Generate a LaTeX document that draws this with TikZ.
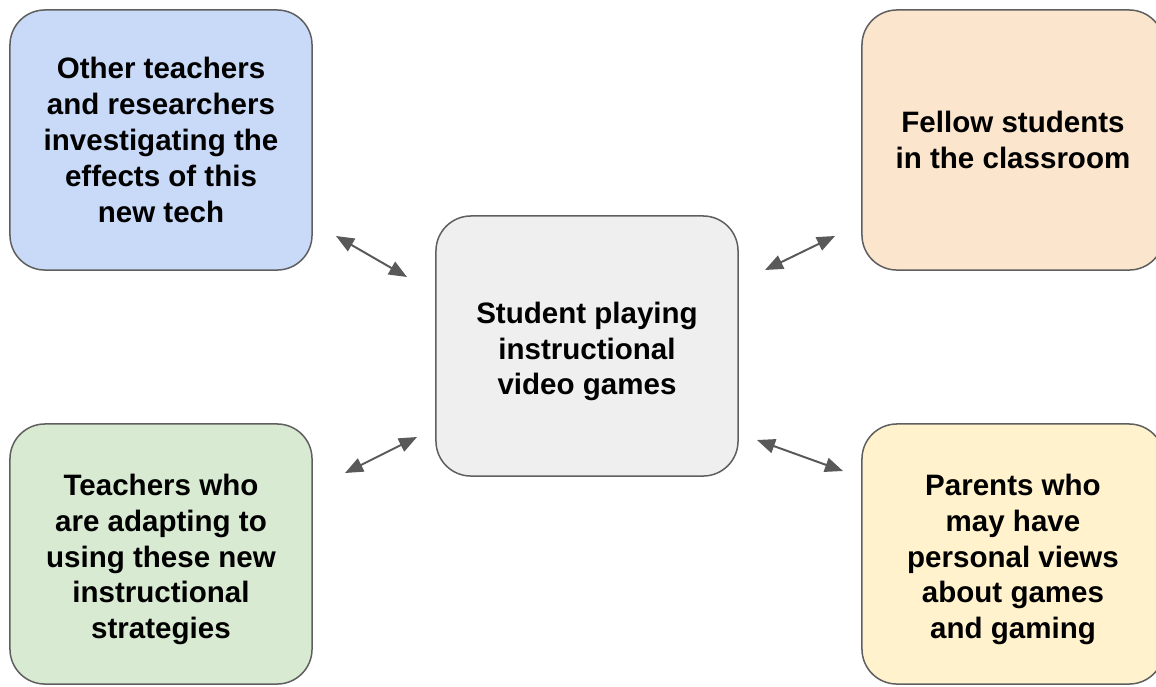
\documentclass[tikz,border=0pt]{standalone}
\usepackage{fontspec}
\setmainfont{Liberation Sans}
\usetikzlibrary{arrows.meta}
\definecolor{boxline}{HTML}{5F5F5F}
\definecolor{linkgray}{HTML}{595959}
\definecolor{blueish}{HTML}{C9DAF8}
\definecolor{orangeish}{HTML}{FCE5CD}
\definecolor{grayish}{HTML}{EFEFEF}
\definecolor{greenish}{HTML}{D9EAD3}
\definecolor{yellowish}{HTML}{FFF2CC}
\begin{document}
\begin{tikzpicture}[
    x=0.025cm, y=-0.025cm,
    every node/.style={rectangle, rounded corners=0.875cm, draw=boxline, line width=1.07pt,
      minimum width=7.55cm, minimum height=6.5cm, align=center,
      font=\bfseries\fontsize{21}{25.5}\selectfont},
    link/.style={{Triangle[length=4.5mm,width=3.6mm]}-{Triangle[length=4.5mm,width=3.6mm]},
      draw=linkgray, line width=1.4pt}
]
  \clip (0,0) rectangle (1156,686);
  \fill[white] (0,0) rectangle (1156,686);

  \node[fill=grayish, text height=74pt] (student) at (587,346) {Student playing\\instructional\\video games};
  \node[fill=blueish] (others) at (161,140) {Other teachers\\and researchers\\investigating the\\effects of this\\new tech};
  \node[fill=orangeish] (fellows) at (1013,140) {Fellow students\\in the classroom};
  \node[fill=greenish, text height=125pt] (teachers) at (161,554) {Teachers who\\are adapting to\\using these new\\instructional\\strategies};
  \node[fill=yellowish, text height=125pt] (parents) at (1013,554) {Parents who\\may have\\personal views\\about games\\and gaming};

  % loose arrow ends
  \coordinate (others-end) at (336,236);
  \coordinate (others-mid) at (407,277);
  \coordinate (fellows-end) at (835,236);
  \coordinate (fellows-mid) at (765,270);
  \coordinate (teachers-end) at (345,473);
  \coordinate (teachers-mid) at (417,437);
  \coordinate (parents-end) at (843,471);
  \coordinate (parents-mid) at (757,440);

  \foreach \who in {others, fellows, teachers, parents}
    \draw[link] (\who-end) -- (\who-mid);

\end{tikzpicture}
\end{document}
